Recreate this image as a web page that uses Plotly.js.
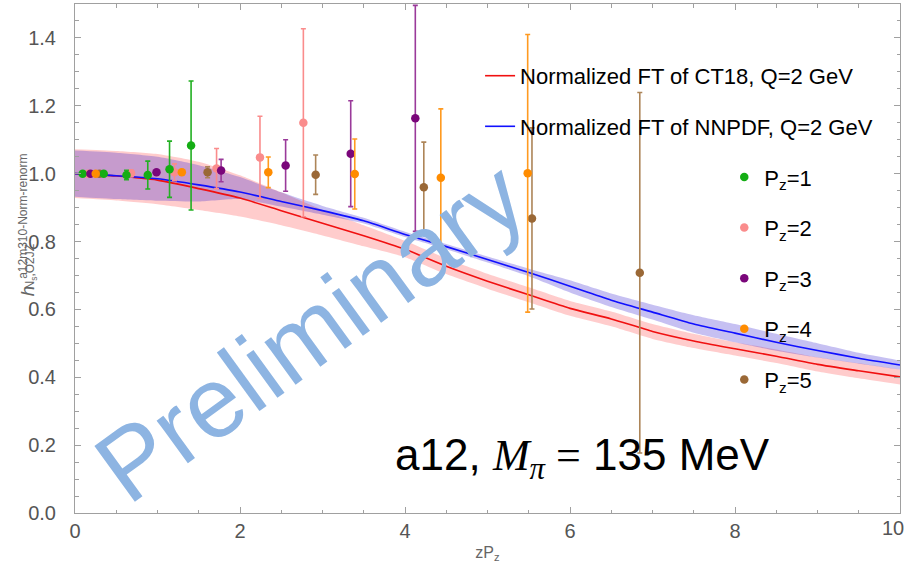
<!DOCTYPE html>
<html>
<head>
<meta charset="utf-8">
<script src="https://cdn.plot.ly/plotly-3.0.1.min.js"></script>
<style>html,body{margin:0;padding:0;background:#fff;}#chart{width:908px;height:566px;}</style>
</head>
<body>
<div id="chart"></div>
<script>
// ---- theory curves (normalized FT) ----
const zgrid   = [0,0.5,1,1.5,2,2.5,3,3.5,4,4.5,5,5.5,6,6.5,7,7.5,8,8.5,9,9.5,10];
const ct18    = [1.000,0.993,0.981,0.956,0.928,0.891,0.854,0.817,0.777,0.727,0.683,0.643,0.603,0.572,0.535,0.507,0.484,0.462,0.438,0.419,0.401];
const ct18Hi  = [1.072,1.067,1.058,1.035,0.995,0.945,0.893,0.848,0.802,0.750,0.705,0.665,0.625,0.594,0.557,0.528,0.503,0.482,0.459,0.441,0.423];
const ct18Lo  = [0.928,0.921,0.910,0.893,0.874,0.848,0.818,0.786,0.754,0.704,0.661,0.621,0.581,0.550,0.513,0.486,0.464,0.442,0.417,0.397,0.379];
const nnpdf   = [1.000,0.994,0.985,0.967,0.946,0.918,0.891,0.861,0.821,0.785,0.747,0.709,0.668,0.627,0.592,0.557,0.530,0.503,0.479,0.456,0.436];
const nnpdfHi = [1.068,1.062,1.050,1.025,0.990,0.945,0.905,0.870,0.829,0.793,0.756,0.720,0.686,0.647,0.614,0.583,0.557,0.528,0.500,0.472,0.449];
const nnpdfLo = [0.932,0.925,0.920,0.918,0.925,0.903,0.879,0.853,0.813,0.777,0.738,0.698,0.650,0.607,0.570,0.531,0.503,0.478,0.458,0.440,0.423];

// ---- lattice data per Pz ----
const zp1 = [0.093,0.348,0.624,0.882,1.146,1.407];
const h1  = [1.000,1.000,0.996,0.996,1.013,1.083];
const e1  = [0.000,0.000,0.014,0.041,0.083,0.190];

const zp2 = [0.156,0.680,1.206,1.716,2.242,2.768];
const h2  = [1.000,1.001,1.004,1.015,1.048,1.150];
const e2  = [0.000,0.010,0.025,0.059,0.121,0.277];

const zp3 = [0.187,0.988,1.771,2.553,3.342,4.125];
const h3  = [1.000,1.004,1.009,1.024,1.059,1.163];
const e3  = [0.000,0.006,0.033,0.076,0.156,0.333];

const zp4 = [0.251,1.295,2.343,3.391,4.434,5.487];
const h4  = [1.000,1.004,1.004,0.999,0.988,1.001];
const e4  = [0.000,0.008,0.045,0.103,0.203,0.409];

const zp5 = [0.297,1.607,2.917,4.228,5.539,6.846];
const h5  = [1.000,1.004,0.997,0.960,0.868,0.708];
const e5  = [0.000,0.016,0.058,0.133,0.267,0.531];

// ---- tick labels ----
const xTickVals  = [0,2,4,6,8,10];
const xTickText  = ['0','2','4','6','8',''];
const xLastLabel = '10';

const curveNames = ['Normalized FT of CT18, Q=2 GeV','Normalized FT of NNPDF, Q=2 GeV'];
const pzNames = ['P<sub>z</sub>=1','P<sub>z</sub>=2','P<sub>z</sub>=3','P<sub>z</sub>=4','P<sub>z</sub>=5'];

const FONT = 'Liberation Sans, Arial, sans-serif';

function band(x, lo, hi, color){
  return [
    {x:x, y:lo, type:'scatter', mode:'lines', line:{width:0, shape:'spline', smoothing:0.6}, showlegend:false, hoverinfo:'skip'},
    {x:x, y:hi, type:'scatter', mode:'lines', line:{width:0, shape:'spline', smoothing:0.6}, fill:'tonexty', fillcolor:color, showlegend:false, hoverinfo:'skip'}
  ];
}
function pts(x, y, e, name, mc, ec, rank){
  return {x:x, y:y, type:'scatter', mode:'markers', name:name, legend:'legend2', legendgroup:'pz'+rank, legendrank:rank,
    marker:{color:mc, size:8.5},
    error_y:{type:'data', array:e, visible:true, color:ec, thickness:1.6, width:2.5}};
}

const traces = [].concat(
  band(zgrid, ct18Lo, ct18Hi, 'rgba(255,0,0,0.2)'),
  band(zgrid, nnpdfLo, nnpdfHi, 'rgba(50,30,210,0.28)'),
  [
    {x:zgrid, y:ct18, type:'scatter', mode:'lines', name:curveNames[0], legendgroup:'c1', legendrank:1,
      line:{color:'#f01010', width:1.6, shape:'spline', smoothing:0.6}},
    {x:zgrid, y:nnpdf, type:'scatter', mode:'lines', name:curveNames[1], legendgroup:'c2', legendrank:2,
      line:{color:'#1010ff', width:1.6, shape:'spline', smoothing:0.6}},
    pts(zp2, h2, e2, pzNames[1], '#fa8c8c', '#fa8c8c', 2),
    pts(zp5, h5, e5, pzNames[4], '#9a6836', '#ad8558', 5),
    pts(zp1, h1, e1, pzNames[0], '#14ad14', '#22b022', 1),
    pts(zp3, h3, e3, pzNames[2], '#7a067a', '#9a3a9a', 3),
    pts(zp4, h4, e4, pzNames[3], '#ff8c00', '#ff9a20', 4)
  ]
);

const axisCommon = {
  showline:true, linecolor:'#a0a0a0', linewidth:1, mirror:'allticks',
  ticks:'inside', ticklen:6, tickwidth:1, tickcolor:'#a0a0a0',
  showgrid:false, zeroline:false, automargin:false,
  tickfont:{family:FONT, size:20, color:'#555'}
};

const layout = {
  width:908, height:566,
  margin:{l:75, r:8, t:4, b:53},
  paper_bgcolor:'#fff', plot_bgcolor:'#fff',
  font:{family:FONT},
  xaxis:Object.assign({}, axisCommon, {
    range:[0,10], tickmode:'array', tickvals:xTickVals, ticktext:xTickText, ticklabelstandoff:0,
    minor:{dtick:0.5, ticks:'inside', ticklen:3.5, tickcolor:'#a0a0a0', showgrid:false},
    title:{text:'zP<sub>z</sub>', font:{family:FONT, size:16, color:'#666'}, standoff:5}
  }),
  yaxis:Object.assign({}, axisCommon, {
    range:[0,1.5], tick0:0, dtick:0.2, tickformat:'.1f', ticklabelstandoff:14,
    minor:{dtick:0.05, ticks:'inside', ticklen:3.5, tickcolor:'#a0a0a0', showgrid:false}
  }),
  legend:{x:0.491, y:0.900, xanchor:'left', yanchor:'top', bgcolor:'rgba(0,0,0,0)', borderwidth:0,
    font:{family:FONT, size:22, color:'#000'}, traceorder:'grouped', tracegroupgap:19},
  legend2:{x:0.787, y:0.701, xanchor:'left', yanchor:'top', bgcolor:'rgba(0,0,0,0)', borderwidth:0,
    font:{family:FONT, size:22, color:'#000'}, traceorder:'grouped', tracegroupgap:19},
  annotations:[
    {xref:'paper', yref:'paper', x:0.285, y:0.357, xanchor:'center', yanchor:'middle', showarrow:false,
      text:'Preliminary', textangle:-36, font:{family:FONT, size:100, color:'#8db4e2'}},
    {xref:'paper', yref:'paper', x:0.615, y:0.108, xanchor:'center', yanchor:'middle', showarrow:false,
      text:'a12, <span style="font-family:\'Liberation Serif\',serif"><i>M</i><sub><i>π</i></sub> =</span> 135 MeV',
      font:{family:FONT, size:44, color:'#000'}},
    {xref:'paper', yref:'paper', x:0.9915, y:-0.0295, xanchor:'center', yanchor:'middle', showarrow:false,
      text:xLastLabel, font:{family:FONT, size:20, color:'#555'}},
    {xref:'paper', yref:'paper', x:-0.0575, y:0.437, xanchor:'center', yanchor:'middle', showarrow:false,
      text:'<i>h</i>', textangle:-90, font:{family:FONT, size:19, color:'#666'}},
    {xref:'paper', yref:'paper', x:-0.0632, y:0.5835, xanchor:'center', yanchor:'middle', showarrow:false,
      text:'a12m310-Norm-renorm', textangle:-90, font:{family:FONT, size:12, color:'#666'}},
    {xref:'paper', yref:'paper', x:-0.0528, y:0.4853, xanchor:'center', yanchor:'middle', showarrow:false,
      text:'N<sub>s</sub>,O2JZ', textangle:-90, font:{family:FONT, size:12, color:'#666'}}
  ]
};

Plotly.newPlot('chart', traces, layout, {displayModeBar:false, staticPlot:true});
</script>
</body>
</html>
